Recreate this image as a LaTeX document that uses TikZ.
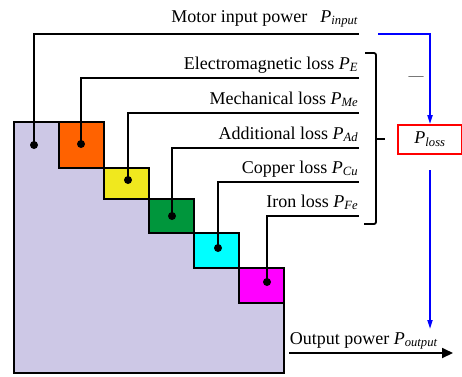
\documentclass[tikz,border=0pt]{standalone}
\usepackage{fontspec}
\setmainfont{Liberation Serif}
\usetikzlibrary{arrows.meta, positioning, calc}
\definecolor{lavender}{RGB}{205,200,230}
\definecolor{lossorange}{RGB}{255,98,0}
\definecolor{lossyellow}{RGB}{240,232,30}
\definecolor{lossgreen}{RGB}{0,150,60}
\definecolor{losscyan}{RGB}{0,255,255}
\definecolor{lossmagenta}{RGB}{255,0,255}
\newcommand{\pwr}[1]{\textit{P}\textsubscript{\textit{#1}}}

\begin{document}
\begin{tikzpicture}[x=1pt, y=-1pt, line width=1.8pt,
  lbl/.style={anchor=south east, inner xsep=0pt, inner ysep=2pt, text depth=6pt, font=\fontsize{18}{20}\selectfont},
  leaddot/.style={circle, fill=black, inner sep=0pt, minimum size=8pt}]
  \useasboundingbox (0,0) rectangle (462,376);

  % power body and loss steps
  \filldraw[fill=lavender] (14,122) -- (59,122) -- (59,168) -- (104,168) -- (104,199) -- (149,199) -- (149,233) -- (194,233) -- (194,268) -- (239,268) -- (239,303) -- (284,303) -- (284,373) -- (14,373) -- cycle;
  \filldraw[fill=lossorange] (59,122) rectangle (104,168);
  \filldraw[fill=lossyellow] (104,168) rectangle (149,199);
  \filldraw[fill=lossgreen] (149,199) rectangle (194,233);
  \filldraw[fill=losscyan] (194,233) rectangle (239,268);
  \filldraw[fill=lossmagenta] (239,268) rectangle (284,303);

  \node[leaddot] (dIn) at (34,145) {};
  \node[leaddot] (dE) at (81,144) {};
  \node[leaddot] (dMe) at (128,180) {};
  \node[leaddot] (dAd) at (172,216) {};
  \node[leaddot] (dCu) at (218,248) {};
  \node[leaddot] (dFe) at (267,282) {};

  \node[lbl, text depth=9pt] (lIn) at (359,34) {Motor input power\hspace{13pt}\pwr{input}};
  \node[lbl] (lE) at (359,78) {Electromagnetic loss \pwr{E}};
  \node[lbl] (lMe) at (359,113) {Mechanical loss \pwr{Me}};
  \node[lbl] (lAd) at (359,148) {Additional loss \pwr{Ad}};
  \node[lbl] (lCu) at (359,182) {Copper loss \pwr{Cu}};
  \node[lbl] (lFe) at (359,216) {Iron loss \pwr{Fe}};

  \draw (dIn.center) |- (lIn.south east);
  \draw (dE.center) |- (lE.south east);
  \draw (dMe.center) |- (lMe.south east);
  \draw (dAd.center) |- (lAd.south east);
  \draw (dCu.center) |- (lCu.south east);
  \draw (dFe.center) |- (lFe.south east);

  % bracket round the losses
  \draw[rounded corners=2pt] (365,53) -- (376,53) -- (376,224) -- (364,224);
  \draw (376,139) -- (385,139);

  \node[draw=red, minimum width=64pt, minimum height=29pt, inner sep=0pt, font=\fontsize{18}{20}\selectfont] (loss) at (430,139.5) {\pwr{loss}};
  \node[text=black!70, font=\fontsize{15}{16}\selectfont, inner sep=0pt] (minus) at (416,79) {—};

  \coordinate (inTap) at (378,34);
  \coordinate (lossOut) at (430,170);
  \coordinate (outTap) at (430,329);
  \draw[blue, -{Triangle[length=9pt, width=5pt]}] (inTap) -| (loss.north);
  \draw[blue, -{Triangle[length=9pt, width=5pt]}] (lossOut) -- (outTap);

  \node[lbl, anchor=south west] (lOut) at (289,353) {Output power \pwr{output}};
  \coordinate (outTip) at (453,353);
  \draw[-{Triangle[length=11pt, width=10pt]}] (lOut.south west) -- (outTip);
\end{tikzpicture}
\end{document}
